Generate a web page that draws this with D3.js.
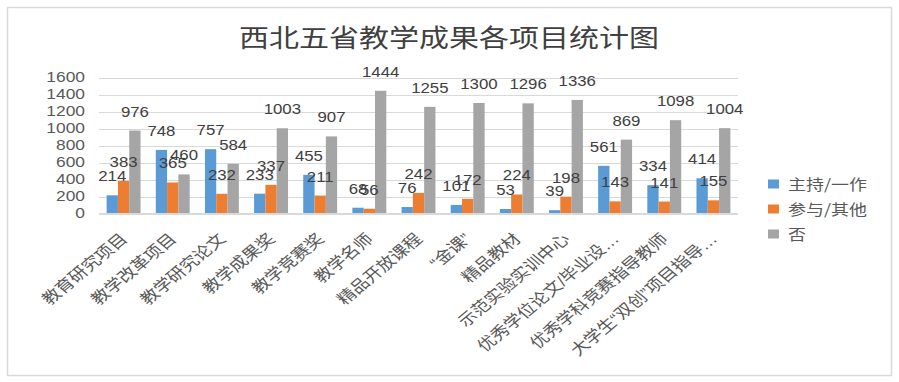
<!DOCTYPE html>
<html><head><meta charset="utf-8">
<script src="https://cdn.jsdelivr.net/npm/d3@7/dist/d3.min.js"></script>
<style>body{margin:0;background:#fff}svg{display:block}</style>
</head><body>
<svg id="chart" width="899" height="382"></svg>
<script>
const title = "西北五省教学成果各项目统计图";
const categories = ["教育研究项目","教学改革项目","教学研究论文","教学成果奖","教学竞赛奖","教学名师","精品开放课程","“金课”","精品教材","示范实验实训中心","优秀学位论文/毕业设…","优秀学科竞赛指导教师","大学生“双创”项目指导…"];
const seriesNames = ["主持/一作","参与/其他","否"];
const hostValues  = [214, 748, 757, 233, 455, 68, 76, 101, 53, 39, 561, 334, 414];
const joinValues  = [383, 365, 232, 337, 211, 56, 242, 172, 224, 198, 143, 141, 155];
const noValues    = [976, 460, 584, 1003, 907, 1444, 1255, 1300, 1296, 1336, 869, 1098, 1004];
const yTicks = [0,200,400,600,800,1000,1200,1400,1600];
const colors = ["#5b9bd5","#ed7d31","#a5a5a5"];

const seriesValues = [hostValues, joinValues, noValues];
const SX = 1.2; // horizontal stretch of the reference rendering
const svg = d3.select("#chart");
const latin = "'Liberation Sans', Arial, 'Noto Sans CJK SC', sans-serif";
const cjk = "'Noto Sans CJK SC', 'Liberation Sans', sans-serif";

svg.append("rect").attr("x",7.5).attr("y",7.5).attr("width",884).attr("height",368)
  .attr("fill","#fff").attr("stroke","#d9d9d9").attr("stroke-width",1.5);

svg.append("text").attr("transform",`translate(449,36) scale(${SX},1)`)
  .attr("text-anchor","middle").attr("dominant-baseline","central")
  .attr("font-family",cjk).attr("font-size",25).attr("fill","#404040").text(title);

const x0 = d3.scaleBand().domain(categories).range([99,738]).paddingInner(0.31).paddingOuter(0.155);
const x1 = d3.scaleBand().domain(d3.range(3)).range([0,x0.bandwidth()]);
const y = d3.scaleLinear().domain([0,1600]).range([213.5,77.5]);

// gridlines
svg.append("g").selectAll("line").data(yTicks).join("line")
  .attr("x1",99).attr("x2",738).attr("y1",d=>Math.round(y(d))+0.5).attr("y2",d=>Math.round(y(d))+0.5)
  .attr("stroke","#d9d9d9").attr("stroke-width",1);

// y labels
svg.append("g").selectAll("text").data(yTicks).join("text")
  .attr("transform",d=>`translate(85,${y(d)}) scale(${SX},1)`)
  .attr("text-anchor","end").attr("dominant-baseline","central")
  .attr("font-family",latin).attr("font-size",14.5).attr("fill","#595959").text(d=>d);

// bars
const groups = svg.append("g").selectAll("g").data(categories).join("g")
  .attr("transform",d=>`translate(${x0(d)},0)`);
groups.selectAll("rect").data((d,i)=>seriesValues.map((s,k)=>({k,v:s[i]}))).join("rect")
  .attr("x",d=>x1(d.k)).attr("width",x1.bandwidth())
  .attr("y",d=>y(d.v)).attr("height",d=>y(0)-y(d.v)).attr("fill",d=>colors[d.k]);

// data labels
groups.selectAll("text").data((d,i)=>seriesValues.map((s,k)=>({k,v:s[i]}))).join("text")
  .attr("transform",d=>`translate(${x1(d.k)+x1.bandwidth()/2},${y(d.v)-14}) scale(${SX},1)`)
  .attr("text-anchor","middle").attr("font-family",latin).attr("font-size",14)
  .attr("fill","#404040").text(d=>d.v);

// x axis line
svg.append("line").attr("x1",99).attr("x2",738).attr("y1",213.5).attr("y2",213.5)
  .attr("stroke","#d9d9d9").attr("stroke-width",1);

// x labels
svg.append("g").selectAll("text").data(categories).join("text")
  .attr("transform",d=>`translate(${x0(d)+x0.bandwidth()/2+5},240) scale(${SX},1) rotate(-45)`)
  .attr("text-anchor","end").attr("font-family",latin).attr("font-size",15.5)
  .attr("fill","#595959").text(d=>d);

// legend
const leg = svg.append("g").selectAll("g").data(seriesNames).join("g")
  .attr("transform",(d,i)=>`translate(768,${184+i*25})`);
leg.append("rect").attr("x",0).attr("y",-4.5).attr("width",11).attr("height",9).attr("fill",(d,i)=>colors[i]);
leg.append("text").attr("transform",`translate(20,0) scale(${SX},1)`).attr("dominant-baseline","central")
  .attr("font-family",cjk).attr("font-size",15).attr("fill","#595959").text(d=>d);
</script>
</body></html>
